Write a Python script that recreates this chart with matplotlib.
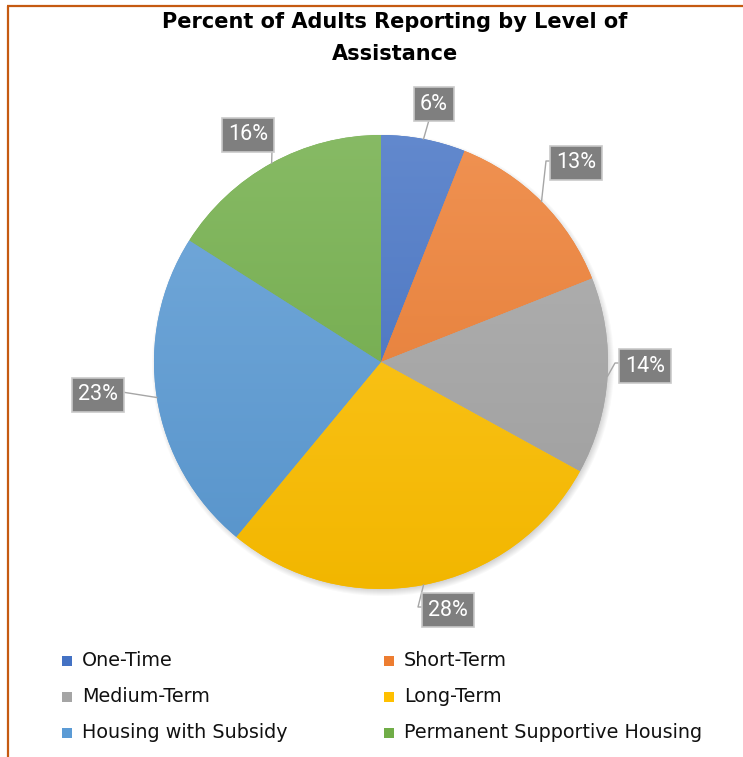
"""Pie chart: percent of adults reporting by level of assistance."""

import matplotlib.pyplot as plt
import numpy as np
from matplotlib.colors import to_rgb
from matplotlib.patches import Circle

W, H = 743, 757

categories = ['One-Time', 'Short-Term', 'Medium-Term', 'Long-Term',
              'Housing with Subsidy', 'Permanent Supportive Housing']
percents = [6, 13, 14, 28, 23, 16]
colors = ['#4472c4', '#ed7d31', '#a5a5a5', '#ffc000', '#5b9bd5', '#70ad47']

# label box centres and leader elbows, in pixels from the top-left corner
label_pos = [(434, 104), (576, 163), (645, 366), (448, 610), (98, 395), (248, 135)]
leader_end = [(429, 120), (553, 161), (622, 363), (425, 607), (122, 392), (272, 150)]
leader_elbow = [None, (546, 161), (615, 363), (418, 607), None, None]

CX, CY, R = 381, 362, 227


def py(y):
    """pixel row -> data y"""
    return H - y


def shade(c, f):
    c = np.array(to_rgb(c))
    if f >= 0:
        return c + (1 - c) * f
    return c * (1 + f)


fig = plt.figure(figsize=(W / 100, H / 100), dpi=100)
ax = fig.add_axes([0, 0, 1, 1])

# soft drop shadow under the pie
for i in range(8):
    ax.add_patch(Circle((CX + 2, py(CY) - 3), R + 4 - i, color='k',
                        alpha=0.025, lw=0, zorder=0))

wedges, _ = ax.pie(percents, colors=colors, startangle=90, counterclock=False,
                   center=(CX, py(CY)), radius=R,
                   wedgeprops=dict(linewidth=0))

# vertical light-to-dark fill over the whole pie, clipped to each slice
t = np.linspace(0, 1, 256)[:, None]
for w, c in zip(wedges, colors):
    top, bot = shade(c, 0.16), shade(c, -0.05)
    img = top[None, None, :] * (1 - t[..., None]) + bot[None, None, :] * t[..., None]
    im = ax.imshow(img, extent=(CX - R, CX + R, py(CY) - R, py(CY) + R),
                   origin='upper', aspect='auto', zorder=2, interpolation='bilinear')
    im.set_clip_path(w)

# data labels with leader lines
cum = np.cumsum([0] + percents[:-1])
for p, start, pos, end, elbow in zip(percents, cum, label_pos, leader_end, leader_elbow):
    ang = np.deg2rad(90 - (start + p / 2) * 3.6)
    ex, ey = CX + R * np.cos(ang), py(CY) + R * np.sin(ang)
    xs, ys = [ex], [ey]
    if elbow is not None:
        xs.append(elbow[0]); ys.append(py(elbow[1]))
    xs.append(end[0]); ys.append(py(end[1]))
    ax.plot(xs, ys, color='#a6a6a6', lw=1.0, zorder=3)
    ax.text(pos[0], py(pos[1]), f'{p}%', ha='center', va='center',
            color='white', fontsize=15.5, family='Roboto', zorder=5,
            bbox=dict(boxstyle='square,pad=0.3', fc='#7f7f7f',
                      ec='#c9c9c9', lw=1.2))

ax.text(395, py(22), 'Percent of Adults Reporting by Level of', ha='center',
        va='center', fontsize=15, fontweight='bold', family='DejaVu Sans')
ax.text(395, py(54), 'Assistance', ha='center', va='center',
        fontsize=15, fontweight='bold', family='DejaVu Sans')

# legend, two columns
leg_x = [67, 389]
leg_y = [661, 697, 733]
for i, (name, c) in enumerate(zip(categories, colors)):
    lx, ly = leg_x[i % 2], leg_y[i // 2]
    ax.scatter([lx], [py(ly)], marker='s', s=52, color=c, lw=0, zorder=4)
    ax.text(lx + 15, py(ly), name, ha='left', va='center',
            fontsize=13.8, family='DejaVu Sans', color='#111111')

# orange frame on top and left edges
ax.plot([7, W], [py(6), py(6)], color='#c55a11', lw=1.6, solid_capstyle='butt')
ax.plot([7.5, 7.5], [py(6), 0], color='#c55a11', lw=1.6, solid_capstyle='butt')

ax.set_xlim(0, W)
ax.set_ylim(0, H)
ax.set_aspect('auto')
ax.axis('off')

fig.savefig('out.png', dpi=100)
